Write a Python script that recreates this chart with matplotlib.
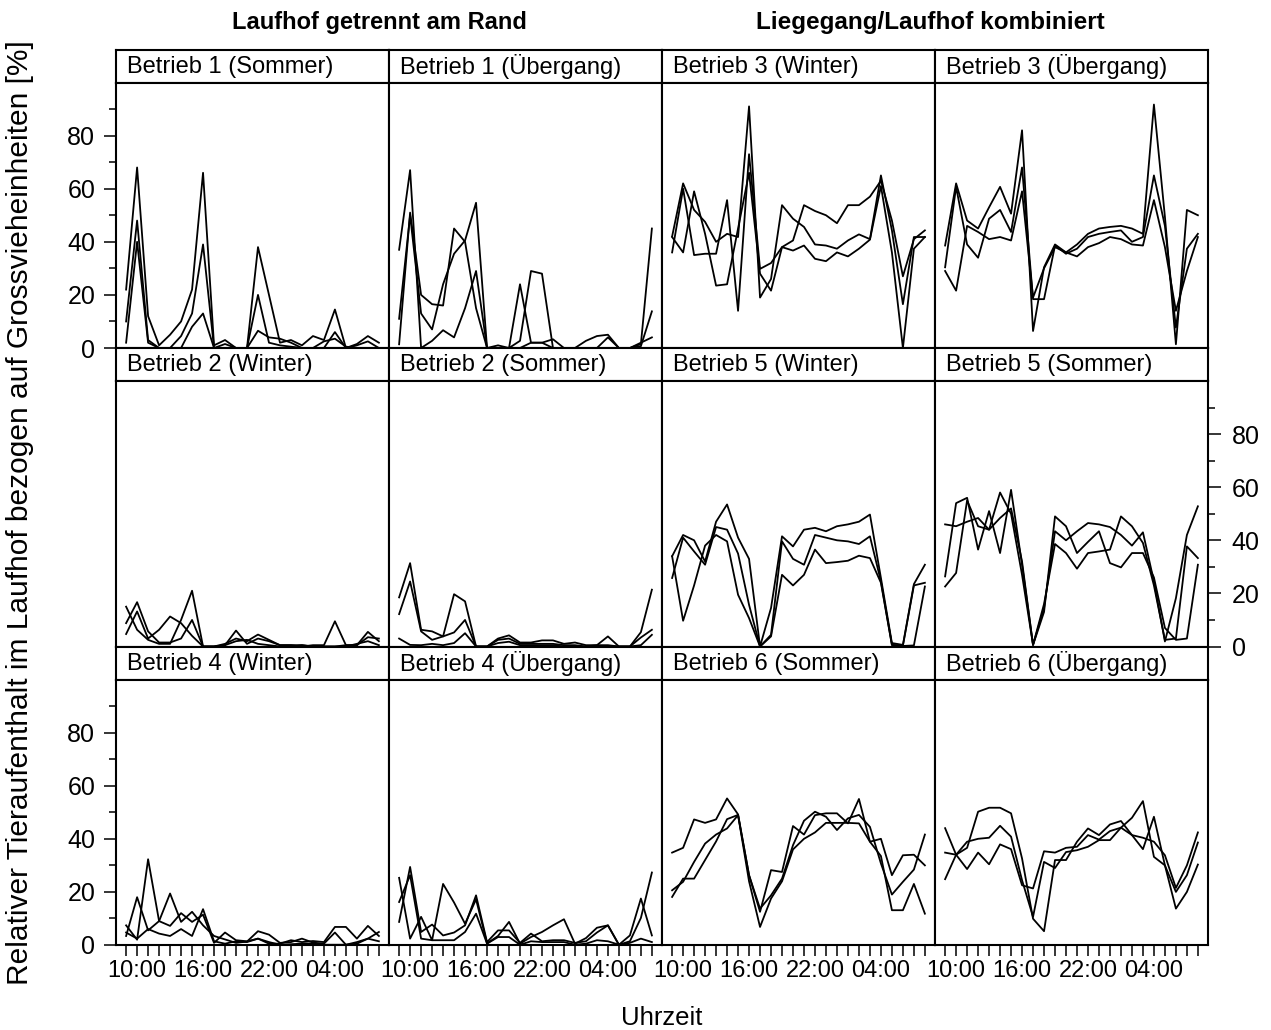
import matplotlib.pyplot as plt

plt.rcParams["font.family"] = ["Liberation Sans", "DejaVu Sans"]

# hourly slots, first slot 09:00
hours = list(range(24))
hour_label_pos = [1, 7, 13, 19]
hour_labels = ["10:00", "16:00", "22:00", "04:00"]
y_major = [0, 20, 40, 60, 80]
y_minor = [10, 30, 50, 70, 90]

group_titles = ["Laufhof getrennt am Rand", "Liegegang/Laufhof kombiniert"]
panel_titles = [
    ["Betrieb 1 (Sommer)", "Betrieb 1 (Übergang)", "Betrieb 3 (Winter)", "Betrieb 3 (Übergang)"],
    ["Betrieb 2 (Winter)", "Betrieb 2 (Sommer)", "Betrieb 5 (Winter)", "Betrieb 5 (Sommer)"],
    ["Betrieb 4 (Winter)", "Betrieb 4 (Übergang)", "Betrieb 6 (Sommer)", "Betrieb 6 (Übergang)"],
]

# three measuring days per panel (values in %)
b1_sommer = [
    [22, 68, 12, 1, 5, 10, 22, 66, 1, 3, 0, 0, 38, 20, 2, 3, 1, 4.5, 3, 14.5, 0, 1.5, 4.5, 2],
    [10, 48, 3, 0, 0, 4.5, 13, 39, 0, 1.5, 0, 0, 20, 2, 1, 0.5, 0, 0, 0, 6, 0, 1, 2.5, 0],
    [2, 40, 2, 0, 0, 0, 8, 13, 0, 0, 0, 0, 6.5, 4, 3.5, 2, 0, 0, 2.5, 3.5, 0.5, 0, 0, 0],
]
b1_uebergang = [
    [37, 67, 0, 2.7, 6.7, 4, 15, 29, 0, 1, 0, 24, 2, 2, 0, 0, 0, 0, 0, 4, 0, 0, 1.5, 45],
    [1.4, 51, 20, 16.5, 16, 45, 40, 15, 0, 0, 0, 2.7, 29, 28, 0, 0, 0, 2.7, 4.5, 5, 0, 0, 2, 4],
    [11, 50, 13, 7, 24, 35.5, 40.5, 54.7, 0, 0, 0, 0, 2, 2, 3.3, 0, 0, 0, 0, 0, 0, 0, 0.7, 13.8],
]
b3_winter = [
    [42, 62, 52, 47.5, 40, 43, 41.8, 91, 19, 26, 53.8, 48.7, 45.6, 39, 38.6, 37.4, 40.5, 42.8, 41, 65, 44.3, 16.5, 41.8, 41.8],
    [36, 60, 35, 35.5, 35.5, 55.7, 14, 73, 29.8, 32, 38, 40.5, 53.8, 51.6, 50, 47, 53.8, 53.8, 57, 63, 48, 27, 41, 44.3],
    [41.8, 36, 59, 43, 23.5, 24, 45, 66, 28, 21.6, 38, 36.7, 38.6, 33.6, 32.7, 36, 34.5, 37.4, 40.8, 61, 36, 0, 37.4, 41.8],
]
b3_uebergang = [
    [38.6, 62, 48, 45, 53, 60.7, 50.6, 82, 6.4, 30.4, 39, 36, 39, 43, 45, 45.6, 46, 45, 43, 91.7, 49.4, 1.4, 52, 50],
    [30.4, 60.7, 39, 34, 48.7, 52, 43.7, 68, 18.4, 18.4, 38.6, 35.5, 37.4, 41.8, 43, 43.7, 44.3, 40, 41.8, 65, 46, 7.7, 37.4, 43],
    [29, 21.6, 46, 43.7, 41, 41.8, 40.5, 59, 19, 30, 38, 36, 34.5, 38, 39.5, 41.8, 41, 39, 38.6, 55.7, 38, 14, 29, 41.8],
]
b2_winter = [
    [15, 6.3, 2.5, 1, 1, 10, 21, 0, 0, 0.5, 6, 1, 3, 2, 0.5, 0.5, 0.5, 0, 0, 0, 0.5, 0.5, 5.5, 2],
    [8.8, 16.7, 5.7, 1.5, 1.5, 3, 10, 0, 0, 1, 3, 2, 4.5, 2.5, 0.5, 0.5, 0, 0.5, 0.5, 9.5, 0.5, 0.5, 3.5, 3],
    [4.7, 13.2, 3, 6.3, 11.3, 8.8, 4, 0, 0, 0.5, 2, 2.5, 1, 0.5, 0, 0, 0.5, 0, 0, 0, 0, 1, 2, 0.5],
]
b2_sommer = [
    [18.5, 31.4, 6.3, 5.7, 3.8, 19.7, 17, 0, 0, 3, 4.2, 1.5, 1.5, 2.3, 2.3, 1, 1.5, 0.5, 0.5, 3.8, 0, 0, 5.4, 21.4],
    [12.2, 24.5, 5.7, 2.5, 3.8, 5.3, 10, 0, 0, 2.5, 3, 1, 1, 1, 1, 0.5, 0.5, 0, 0.5, 0.5, 0, 0, 3.4, 6.3],
    [3, 0.6, 0.5, 1, 0.5, 1.3, 5, 0, 0, 1.3, 1.8, 0.5, 0.5, 0.5, 0.5, 0, 0, 0, 0, 0, 0, 0, 0.5, 4.4],
]
b5_winter = [
    [34, 42, 40, 32, 47, 53.5, 41, 33, 0, 14.5, 41.5, 37.7, 44, 44.7, 43.4, 45.3, 46, 47, 49.7, 25.8, 1.3, 0.6, 23.5, 30.8],
    [25.8, 41, 35.8, 30.8, 45, 44, 35, 15.7, 0, 4.4, 39.6, 33, 30.8, 42, 41, 40, 39.6, 38.6, 41.5, 24.5, 0.6, 0.3, 23, 24],
    [34, 9.7, 23, 38, 42, 39.6, 19.5, 10.7, 0, 3.8, 27, 23, 27, 36.5, 31.4, 31.8, 32.3, 34.2, 33.3, 24, 0.6, 0.2, 0.4, 22.6],
]
b5_sommer = [
    [46, 45.3, 47, 48.4, 44, 48.4, 52, 32, 0.6, 14.5, 43.4, 40, 43.4, 46.5, 46, 45, 42, 38, 43, 24.5, 1.9, 18.2, 42, 52.8],
    [26.4, 54, 56, 36.5, 51, 35.2, 59, 30.8, 0.6, 13, 49, 45.3, 35.2, 39.4, 43.4, 31.4, 29.8, 35.2, 35.2, 26, 7, 2.5, 3, 30.8],
    [22.6, 27.7, 55, 45.3, 44, 58, 50, 27, 0.6, 16, 38.6, 35.2, 29.3, 35.2, 35.8, 36.5, 49, 45.3, 39, 23, 2.5, 3, 37.7, 33.3],
]
b4_winter = [
    [7.4, 2, 32.3, 9, 7.2, 12, 8.7, 11.4, 0.8, 4.7, 1.8, 1.4, 2.4, 0.5, 0.5, 1.8, 1.1, 1.5, 1.1, 6.8, 6.8, 2.4, 7.2, 3.4],
    [3.4, 18, 5.5, 9, 19.4, 8.7, 12.5, 7.4, 3.4, 2.1, 0.8, 1.3, 5.2, 3.9, 0.8, 1.1, 2.4, 0.9, 0.5, 4.7, 0.1, 1.1, 2.4, 4.9],
    [4.7, 2.4, 6, 4.3, 3.4, 6, 3.4, 13.5, 1.4, 0.5, 1.4, 1.1, 2.4, 1.1, 0.1, 0.3, 0.5, 0.5, 0.1, 0.1, 0.1, 0.5, 2.4, 1.4],
]
b4_uebergang = [
    [25.3, 2.4, 10.6, 1.8, 23, 16, 8, 17.2, 0.6, 3.4, 8.7, 0.5, 3, 4.9, 7.4, 9.7, 0.5, 2.6, 6.5, 7.4, 0.1, 3.6, 17.5, 3.6],
    [8.7, 29.4, 4.9, 7.7, 3.6, 4.7, 7.4, 18.7, 1.1, 5.5, 5.5, 0.8, 4.3, 1.4, 1.8, 1.8, 0.8, 1.4, 4.7, 7.4, 0.1, 1.4, 10.2, 27.3],
    [16.2, 26.3, 2.4, 1.8, 1.8, 1.8, 4.9, 11.8, 0.5, 3, 3, 0.1, 1.4, 1.1, 1.1, 1.1, 0.1, 0.5, 1.8, 1.4, 0.1, 0.8, 2.4, 1.1],
]
b6_sommer = [
    [34.8, 36.6, 47.3, 46, 47.3, 55.2, 49.2, 26.3, 12.5, 28.2, 27.5, 44.8, 41.6, 48.9, 49.6, 49.6, 45.8, 55, 38.9, 40, 26.3, 33.8, 34, 30],
    [20.6, 23.8, 31.3, 38.2, 41.6, 43.9, 48.9, 26.3, 13.7, 18.7, 25, 37.6, 46.8, 50.2, 48.3, 43.3, 47.7, 49, 44.5, 30.7, 19, 23.8, 28.4, 41.6],
    [18.1, 25, 25, 32, 39, 47.4, 49, 24, 6.8, 17.5, 24, 36, 40, 42.4, 46, 46, 46, 45.8, 38.9, 33.5, 13.1, 13.1, 23, 11.8],
]
b6_uebergang = [
    [44, 34, 28.6, 34.8, 30.4, 37.9, 36.1, 22.5, 21.3, 35.3, 34.8, 36.6, 37, 41.4, 39.7, 42.9, 44.2, 41.4, 36.1, 48.3, 30, 13.7, 20, 30.3],
    [34.8, 34, 38.9, 40, 40.4, 44.9, 40.8, 24.4, 10.6, 31.3, 29, 35, 35.7, 37, 39.5, 39.5, 44.2, 47.9, 54.2, 33.2, 30, 20, 26.3, 38.6],
    [24.8, 34, 36.6, 50.2, 51.7, 51.7, 49.6, 32.6, 9.9, 5.2, 32, 32, 38.9, 43.9, 41.4, 45.4, 46.7, 41.4, 40.4, 38.9, 33.8, 21.5, 30, 42.4],
]

panel_data = [
    [b1_sommer, b1_uebergang, b3_winter, b3_uebergang],
    [b2_winter, b2_sommer, b5_winter, b5_sommer],
    [b4_winter, b4_uebergang, b6_sommer, b6_uebergang],
]

# --- layout in pixels (lattice-like grid) ---
W, H = 1271, 1030
fig = plt.figure(figsize=(W / 100, H / 100), dpi=100)
fig.patch.set_facecolor("white")


def px_axes(x, y, w, h):
    return fig.add_axes([x / W, 1 - (y + h) / H, w / W, h / H])


col_left = [116, 389, 662, 935]
col_w = 273
row_top = [49.5, 348, 646.5]
strip_h = 33
panel_h = 265.5
fs = 17
lw_box = 1.5

for r in range(3):
    for c in range(4):
        x0 = col_left[c]
        y0 = row_top[r]

        # strip with panel title
        sax = px_axes(x0, y0, col_w, strip_h)
        sax.set_xticks([])
        sax.set_yticks([])
        for s in sax.spines.values():
            s.set_linewidth(lw_box)
        sax.text(11 / col_w, 0.47, panel_titles[r][c], transform=sax.transAxes,
                 ha="left", va="center", fontsize=fs)

        # panel
        ax = px_axes(x0, y0 + strip_h, col_w, panel_h)
        for s in ax.spines.values():
            s.set_linewidth(lw_box)
        for series in panel_data[r][c]:
            ax.plot(hours, series, color="black", linewidth=1.3)
        ax.set_xlim(-0.92, 23.92)
        ax.set_ylim(0, 100)

        # x axis only along the bottom row
        ax.set_xticks(hours)
        if r == 2:
            ax.set_xticklabels([hour_labels[hour_label_pos.index(h)] if h in hour_label_pos else ""
                                for h in hours])
            ax.tick_params(axis="x", length=8, width=1.1, pad=3, labelsize=fs, direction="out")
        else:
            ax.tick_params(axis="x", bottom=False, labelbottom=False)

        # y axis alternating left / right as in lattice
        ax.set_yticks(y_major)
        ax.set_yticks(y_minor, minor=True)
        left_side = (c == 0 and r in (0, 2))
        right_side = (c == 3 and r == 1)
        ax.tick_params(axis="y", which="both", left=left_side, labelleft=left_side,
                       right=right_side, labelright=right_side, direction="out", width=1.1)
        ax.tick_params(axis="y", which="major", length=9, pad=6 if left_side else 8,
                       labelsize=fs + 1)
        ax.tick_params(axis="y", which="minor", length=5)

# group titles above the column pairs
fig.text(379 / W, 1 - 22 / H, group_titles[0],
         ha="center", va="center", fontsize=fs, fontweight="bold")
fig.text(930 / W, 1 - 22 / H, group_titles[1],
         ha="center", va="center", fontsize=fs + 0.5, fontweight="bold")

fig.text(20 / W, 1 - 513 / H,
         "Relativer Tieraufenthalt im Laufhof bezogen auf Grossvieheinheiten [%]",
         rotation=90, ha="center", va="center", fontsize=21.5)
fig.text(662 / W, 1 - 1018 / H, "Uhrzeit", ha="center", va="center", fontsize=18.5)

fig.savefig("out.png", dpi=100, facecolor="white")
